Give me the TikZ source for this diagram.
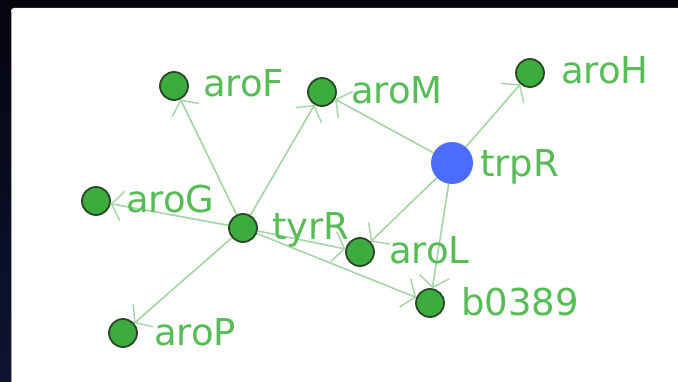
\documentclass[tikz,border=0pt]{standalone}
\usepackage{fontspec}
\setmainfont{DejaVu Sans}
\usetikzlibrary{arrows.meta}
\pgfdeclarelayer{bg}
\pgfdeclarelayer{edges}
\pgfsetlayers{bg,edges,main}
\definecolor{bgtop}{RGB}{5,5,14}
\definecolor{bgbot}{RGB}{14,20,50}
\definecolor{gfill}{RGB}{60,172,62}
\definecolor{gline}{RGB}{40,72,40}
\definecolor{bfill}{RGB}{74,108,255}
\definecolor{gtext}{RGB}{86,188,86}
\definecolor{gedge}{RGB}{165,212,165}
\tikzset{
  gene/.style={circle,fill=gfill,draw=gline,line width=1.8pt,minimum size=28pt,inner sep=0pt},
  tf/.style={circle,fill=bfill,draw=none,minimum size=42pt,inner sep=0pt},
  lbl/.style={anchor=base west,inner sep=0pt,text=gtext,font=\fontsize{37}{40}\selectfont},
  reg/.style={draw=gedge,line width=1.6pt,-{Straight Barb[length=11pt,width=30pt,line width=1.4pt]}},
}
\begin{document}
\begin{tikzpicture}[x=1pt,y=-1pt]
\useasboundingbox (0,0) rectangle (678,382);
\begin{pgfonlayer}{bg}
\shade[top color=bgtop,bottom color=bgbot] (0,0) rectangle (678,382);
\fill[white,rounded corners=3pt] (11,8) rectangle (690,395);
\draw[gray!70,line width=1pt] (11.5,12) -- (11.5,382);
\end{pgfonlayer}
% nodes
\node[gene] (aroF) at (174,86) {};
\node[gene] (aroM) at (322,92) {};
\node[gene] (aroH) at (530,73) {};
\node[tf]   (trpR) at (452,163) {};
\node[gene] (aroG) at (96,201) {};
\node[gene] (tyrR) at (243,228) {};
\node[gene] (aroL) at (360,252) {};
\node[gene] (b0389) at (430,303) {};
\node[gene] (aroP) at (123,333) {};
% edges
\begin{pgfonlayer}{edges}
\draw[reg] (tyrR) -- (aroF);
\draw[reg] (tyrR) -- (aroM);
\draw[reg] (tyrR) -- (aroG);
\draw[reg] (tyrR) -- (aroP);
\draw[reg] (tyrR) -- (aroL);
\draw[reg] (tyrR) -- (b0389);
\draw[reg] (trpR) -- (aroM);
\draw[reg] (trpR) -- (aroH);
\draw[reg] (trpR) -- (aroL);
\draw[reg] (trpR) -- (b0389);
\end{pgfonlayer}
% labels
\node[lbl] (laroF) at (203,97) {aroF};
\node[lbl] (laroM) at (351,104) {aroM};
\node[lbl] (laroH) at (561,84) {aroH};
\node[lbl] (ltrpR) at (480,177) {trpR};
\node[lbl] (laroG) at (126,213) {aroG};
\node[lbl] (ltyrR) at (272,240) {tyrR};
\node[lbl] (laroL) at (389,264) {aroL};
\node[lbl] (lb0389) at (461,316) {b0389};
\node[lbl] (laroP) at (154,345) {aroP};
\end{tikzpicture}
\end{document}
